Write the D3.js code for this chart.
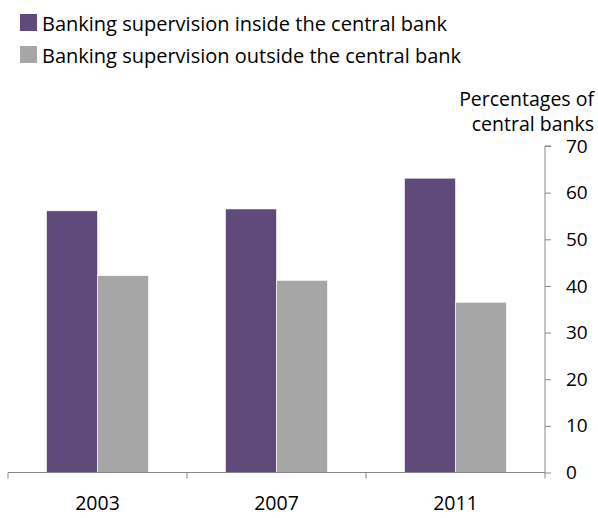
<!DOCTYPE html>
<html><head><meta charset="utf-8">
<script src="https://cdn.jsdelivr.net/npm/d3@7"></script>
<style>body{margin:0;background:#fff}svg{display:block}text{font-family:"Open Sans",sans-serif;fill:#000}</style>
</head><body>
<script>
const categories = ["2003","2007","2011"];
const seriesNames = ["Banking supervision inside the central bank","Banking supervision outside the central bank"];
const inside = [56.1, 56.5, 63.1];
const outside = [42.2, 41.2, 36.5];
const yTicks = [0,10,20,30,40,50,60,70];
const colors = ["#604A7B","#A6A6A6"];

const W=598,H=518;
const svg=d3.select("body").append("svg").attr("width",W).attr("height",H);
const x0=d3.scaleBand().domain(categories).range([8,545]).paddingInner(0).paddingOuter(0);
const series=[inside,outside];
const x1=d3.scaleBand().domain([0,1]).range([0,x0.bandwidth()]).paddingInner(0).paddingOuter(0.755);
const y=d3.scaleLinear().domain([0,70]).range([472.5,146]);

// bars
categories.forEach((c,i)=>{
  series.forEach((s,j)=>{
    svg.append("rect").attr("x",x0(c)+x1(j)).attr("width",x1.bandwidth())
      .attr("y",y(s[i])).attr("height",y(0)-y(s[i])).attr("fill",colors[j])
      .attr("stroke","#fff").attr("stroke-width",0.6);
  });
});

// y axis on right
const yAxis=d3.axisRight(y).tickValues(yTicks).tickSize(6).tickPadding(15);
const gy=svg.append("g").attr("transform","translate(545,0)").call(yAxis);
gy.select(".domain").attr("stroke","#868686").attr("d","M6,"+y(70)+"H0V"+y(0));
gy.selectAll(".tick line").attr("stroke","#868686");
gy.selectAll(".tick text").attr("font-size",19).attr("font-family","Open Sans").attr("fill","#000");

// x axis
const gx=svg.append("g").attr("transform","translate(0,"+y(0)+")");
gx.append("line").attr("x1",8).attr("x2",545).attr("y1",0).attr("y2",0).attr("stroke","#868686");
const bounds=categories.map(c=>x0(c)).concat([x0.range()[1]]);
gx.selectAll("line.t").data(bounds).enter().append("line").attr("class","t")
  .attr("x1",d=>d).attr("x2",d=>d).attr("y1",0).attr("y2",6).attr("stroke","#868686");
gx.selectAll("text").data(categories).enter().append("text")
  .attr("x",d=>x0(d)+x0.bandwidth()/2).attr("y",37).attr("text-anchor","middle")
  .attr("font-size",19.5).text(d=>d);

// axis title
svg.append("text").attr("x",594).attr("y",106).attr("text-anchor","end").attr("font-size",19.5).text("Percentages of");
svg.append("text").attr("x",594).attr("y",131).attr("text-anchor","end").attr("font-size",19.5).text("central banks");

// legend
seriesNames.forEach((n,i)=>{
  const yy=14+i*32;
  svg.append("rect").attr("x",20).attr("y",yy).attr("width",17).attr("height",17).attr("fill",colors[i]);
  svg.append("text").attr("x",42).attr("y",yy+17).attr("font-size",20).text(n);
});
</script>
</body></html>
